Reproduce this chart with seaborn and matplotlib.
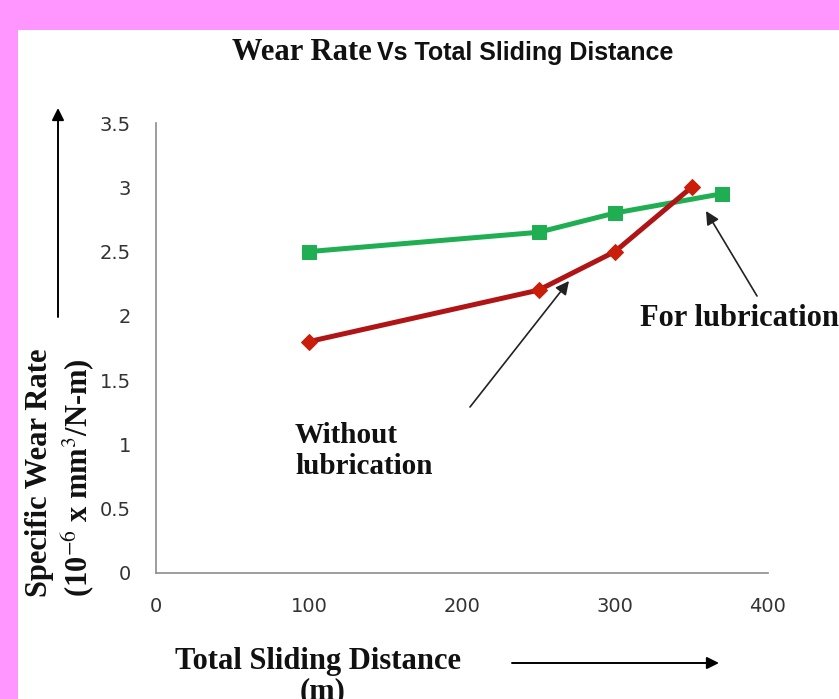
import matplotlib
matplotlib.use("Agg")
import matplotlib.pyplot as plt
import seaborn as sns
import pandas as pd
from matplotlib.patches import Rectangle, FancyArrowPatch

# data
dist_lub = [100, 250, 300, 370]
rate_lub = [2.5, 2.65, 2.8, 2.95]
dist_dry = [100, 250, 300, 350]
rate_dry = [1.8, 2.2, 2.5, 3.0]
x_ticks = [0, 100, 200, 300, 400]
y_ticks = [0, 0.5, 1, 1.5, 2, 2.5, 3, 3.5]
y_ticklabels = ["0", "0.5", "1", "1.5", "2", "2.5", "3", "3.5"]

lub = pd.DataFrame({"distance": dist_lub, "rate": rate_lub})
dry = pd.DataFrame({"distance": dist_dry, "rate": rate_dry})

sns.set_style("white")
plt.rcParams["mathtext.fontset"] = "stix"
serif = ["Liberation Serif", "DejaVu Serif"]
W, H = 839, 699


def px(x, y):
    # pixel position -> figure fraction
    return (x / W, 1 - y / H)


fig = plt.figure(figsize=(8.39, 6.99), dpi=100)
fig.patch.set_facecolor("#ff96ff")
fig.patches.append(Rectangle(px(18, 699), 1, (699 - 30) / H, transform=fig.transFigure,
                             facecolor="white", edgecolor="none", zorder=-5))

ax = fig.add_axes([156 / W, 1 - 573 / H, (768 - 156) / W, (573 - 123) / H])
ax.set_zorder(2)
ax.set_facecolor("none")

sns.lineplot(data=lub, x="distance", y="rate", ax=ax, color="#1fae52", lw=3.6,
             marker="s", markersize=10.5, markeredgecolor="#1fae52", zorder=3)
sns.lineplot(data=dry, x="distance", y="rate", ax=ax, color="#b01414", lw=3.6,
             marker="D", markersize=8, markerfacecolor="#c81e0a",
             markeredgecolor="#c81e0a", zorder=4)

ax.set_xlim(0, 400)
ax.set_ylim(0, 3.5)
ax.set_xticks(x_ticks)
ax.set_yticks(y_ticks)
ax.set_yticklabels(y_ticklabels)
ax.set_xlabel("")
ax.set_ylabel("")
for s in ["top", "right"]:
    ax.spines[s].set_visible(False)
for s in ["left", "bottom"]:
    ax.spines[s].set_color("#8c8c8c")
    ax.spines[s].set_linewidth(1.2)
ax.tick_params(axis="both", direction="out", length=4, width=1.1, color="#8c8c8c",
               labelsize=14, labelcolor="#333333")
ax.tick_params(axis="y", pad=14)
ax.tick_params(axis="x", pad=13)
for lab in ax.get_xticklabels() + ax.get_yticklabels():
    lab.set_family("DejaVu Sans")

# title in two fonts
fig.text(*px(372, 52), "Wear Rate", family=serif, fontsize=22, fontweight="bold",
         ha="right", va="center", color="#111111")
fig.text(*px(377, 53), "Vs Total Sliding Distance", family="Liberation Sans",
         fontsize=18, fontweight="bold", ha="left", va="center", color="#111111")

# axis titles
fig.text(*px(40, 473), "Specific Wear Rate", family=serif, fontsize=22,
         fontweight="bold", rotation=90, ha="center", va="center", color="#111111")
fig.text(*px(78, 478), r"(10$^{-6}$ x mm$^{3}$/N-m)", family=serif, fontsize=22,
         fontweight="bold", rotation=90, ha="center", va="center", color="#111111")
fig.text(*px(175, 661), "Total Sliding Distance", family=serif, fontsize=22,
         fontweight="bold", ha="left", va="center", color="#111111")
fig.text(*px(323, 692), "(m)", family=serif, fontsize=22, fontweight="bold",
         ha="center", va="center", color="#111111")

# axis direction arrows
arrow = dict(arrowstyle="-|>", color="black", lw=1.4, mutation_scale=18,
             shrinkA=0, shrinkB=0)
fig.add_artist(FancyArrowPatch(px(58, 317), px(58, 108),
                               transform=fig.transFigure, **arrow))
fig.add_artist(FancyArrowPatch(px(512, 663), px(719, 663),
                               transform=fig.transFigure, **arrow))

# series annotations
pointer = dict(arrowstyle="-|>", color="#222222", lw=1.2, mutation_scale=20,
               shrinkA=0, shrinkB=0)
fig.add_artist(FancyArrowPatch(px(757, 296), px(706, 211),
                               transform=fig.transFigure, **pointer))
fig.add_artist(FancyArrowPatch(px(470, 407), px(569, 281),
                               transform=fig.transFigure, **pointer))
fig.text(*px(640, 318), "For lubrication", family=serif, fontsize=22,
         fontweight="bold", ha="left", va="center", color="#111111")
fig.text(*px(295, 451), "Without\nlubrication", family=serif, fontsize=21,
         fontweight="bold", ha="left", va="center", linespacing=1.2,
         color="#111111")

fig.savefig("out.png", dpi=100, facecolor=fig.get_facecolor())
